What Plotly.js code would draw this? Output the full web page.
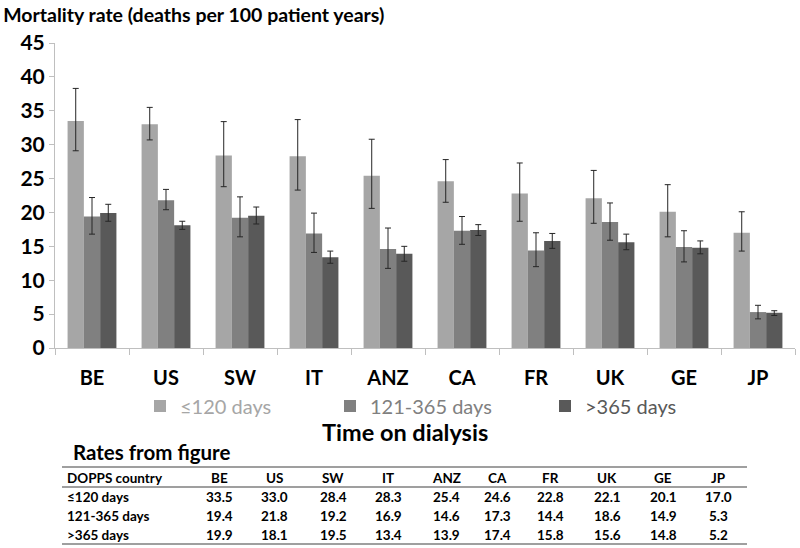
<!DOCTYPE html>
<html>
<head>
<meta charset="utf-8">
<script src="https://cdn.plot.ly/plotly-3.0.1.min.js"></script>
<style>
  html, body { margin: 0; padding: 0; background: #fff; }
  #myPlot { width: 800px; height: 548px; }
</style>
</head>
<body>
<div id="myPlot"></div>
<script>
// Data
var countries = ["BE", "US", "SW", "IT", "ANZ", "CA", "FR", "UK", "GE", "JP"];
var seriesNames = ["≤120 days", "121-365 days", ">365 days"];

var rateShort = [33.5, 33.0, 28.4, 28.3, 25.4, 24.6, 22.8, 22.1, 20.1, 17.0];
var rateMid   = [19.4, 21.8, 19.2, 16.9, 14.6, 17.3, 14.4, 18.6, 14.9, 5.3];
var rateLong  = [19.9, 18.1, 19.5, 13.4, 13.9, 17.4, 15.8, 15.6, 14.8, 5.2];

// error bars
var errShortUp   = [4.8, 2.5, 5.0, 5.4, 5.4, 3.2, 4.5, 4.1, 4.0, 3.1];
var errShortDown = [4.4, 2.3, 4.6, 5.0, 4.8, 3.1, 4.1, 3.7, 3.7, 2.7];
var errMidUp     = [2.8, 1.6, 3.1, 3.0, 3.1, 2.1, 2.6, 2.8, 2.4, 1.0];
var errMidDown   = [2.6, 1.4, 2.8, 2.8, 2.85, 2.0, 2.4, 2.7, 2.2, 1.0];
var errLongUp    = [1.3, 0.6, 1.3, 0.9, 1.1, 0.8, 1.1, 1.2, 1.0, 0.3];
var errLongDown  = [1.2, 0.6, 1.2, 0.9, 1.1, 0.8, 1.1, 1.1, 0.9, 0.4];

var colors = ["#a6a6a6", "#808080", "#595959"];
var fontFam = "Lato, 'Open Sans', sans-serif";

// plot area helpers (pixels -> paper)
var L = 55, R = 5, T = 43, B = 200;
var W = 800 - L - R, H = 548 - T - B;
function px(x) { return (x - L) / W; }
function py(y) { return (548 - B - y) / H; }

function makeBar(i, vals, up, down, legendId) {
    return {
        type: "bar",
        x: countries,
        y: vals,
        name: seriesNames[i],
        legend: legendId,
        marker: { color: colors[i] },
        error_y: {
            type: "data", symmetric: false,
            array: up, arrayminus: down,
            color: "#262626", thickness: 1, width: 3
        },
        hoverinfo: "x+y"
    };
}

var data = [
    makeBar(0, rateShort, errShortUp, errShortDown, "legend"),
    makeBar(1, rateMid, errMidUp, errMidDown, "legend2"),
    makeBar(2, rateLong, errLongUp, errLongDown, "legend3")
];

// Table below the chart
var tableCols = [219, 274, 333, 388, 446, 497, 550, 607, 663, 718];
var tableRowsY = [497, 516, 535];
var tableRows = [rateShort, rateMid, rateLong];
var annotations = [];
var tfont = { family: fontFam, size: 13.5, color: "#000", weight: "bold" };

// x axis title, placed as in the reference (left of plot centre)
annotations.push({
    xref: "paper", yref: "paper", x: px(405), y: py(432),
    xanchor: "center", yanchor: "middle", showarrow: false,
    text: "Time on dialysis",
    font: { family: fontFam, size: 23.5, color: "#000", weight: "bold" }
});
annotations.push({
    xref: "paper", yref: "paper", x: px(71), y: py(452),
    xanchor: "left", yanchor: "middle", showarrow: false,
    text: "Rates from figure",
    font: { family: fontFam, size: 20.5, color: "#000", weight: "bold" }
});
annotations.push({
    xref: "paper", yref: "paper", x: px(65), y: py(478),
    xanchor: "left", yanchor: "middle", showarrow: false,
    text: "DOPPS country", font: tfont
});
countries.forEach(function (c, j) {
    annotations.push({
        xref: "paper", yref: "paper", x: px(tableCols[j]), y: py(478),
        xanchor: "center", yanchor: "middle", showarrow: false,
        text: c, font: tfont
    });
});
tableRows.forEach(function (row, i) {
    annotations.push({
        xref: "paper", yref: "paper", x: px(65), y: py(tableRowsY[i]),
        xanchor: "left", yanchor: "middle", showarrow: false,
        text: seriesNames[i], font: tfont
    });
    row.forEach(function (v, j) {
        annotations.push({
            xref: "paper", yref: "paper", x: px(tableCols[j]), y: py(tableRowsY[i]),
            xanchor: "center", yanchor: "middle", showarrow: false,
            text: v.toFixed(1), font: tfont
        });
    });
});

var shapes = [467, 487, 544].map(function (y) {
    return {
        type: "line", xref: "paper", yref: "paper",
        x0: px(62), x1: px(747), y0: py(y), y1: py(y),
        line: { color: "#7f7f7f", width: 1.3 }
    };
});

function legendAt(xPix, col) {
    return {
        orientation: "h", x: px(xPix), y: py(406),
        xanchor: "left", yanchor: "middle",
        font: { family: fontFam, size: 20, color: col },
        bgcolor: "rgba(0,0,0,0)", itemclick: false
    };
}

var layout = {
    width: 800, height: 548,
    margin: { l: L, r: R, t: T, b: B },
    paper_bgcolor: "#fff", plot_bgcolor: "#fff",
    font: { family: fontFam, color: "#000" },
    title: {
        text: "Mortality rate (deaths per 100 patient years)",
        xref: "container", yref: "container",
        x: 0.004, xanchor: "left", y: 1 - 15 / 548, yanchor: "middle",
        font: { family: fontFam, size: 19.5, color: "#000", weight: "bold" }
    },
    barmode: "group", bargap: 0.34, bargroupgap: 0,
    showlegend: true,
    legend: legendAt(140, colors[0]),
    legend2: legendAt(330, colors[1]),
    legend3: legendAt(545, colors[2]),
    xaxis: {
        type: "category",
        showline: true, linecolor: "#bfbfbf", linewidth: 1,
        ticks: "outside", tickson: "boundaries", ticklen: 6, tickcolor: "#bfbfbf",
        tickfont: { family: fontFam, size: 20, color: "#000", weight: "bold" },
        ticklabelstandoff: 12,
        showgrid: false, zeroline: false,
        automargin: false
    },
    yaxis: {
        range: [0, 45], dtick: 5, tick0: 0,
        showline: true, linecolor: "#bfbfbf", linewidth: 1,
        ticks: "outside", ticklen: 5, tickcolor: "#bfbfbf",
        tickfont: { family: fontFam, size: 21, color: "#000", weight: "bold" },
        showgrid: false, zeroline: false,
        automargin: false
    },
    annotations: annotations,
    shapes: shapes
};

Plotly.newPlot("myPlot", data, layout, { displayModeBar: false, staticPlot: true });
</script>
</body>
</html>
